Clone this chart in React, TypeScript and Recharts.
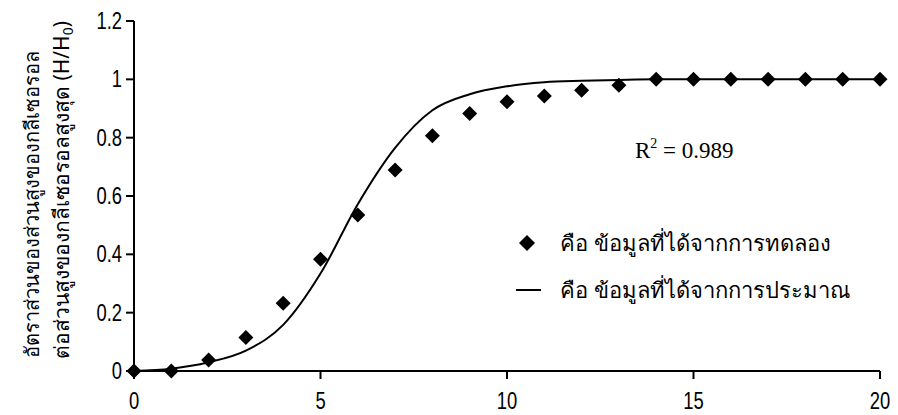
import {
  ComposedChart,
  Line,
  Scatter,
  XAxis,
  YAxis,
} from "recharts";

const xValues = [0, 1, 2, 3, 4, 5, 6, 7, 8, 9, 10, 11, 12, 13, 14, 15, 16, 17, 18, 19, 20];
const measured = [0, 0, 0.038, 0.115, 0.232, 0.383, 0.535, 0.689, 0.807, 0.883, 0.923, 0.943, 0.963, 0.98, 1, 1, 1, 1, 1, 1, 1];
const estimated = [0, 0.008, 0.03, 0.07, 0.158, 0.334, 0.572, 0.765, 0.894, 0.949, 0.976, 0.99, 0.995, 0.998, 1, 1, 1, 1, 1, 1, 1];

const xTicks = [0, 5, 10, 15, 20];
const yTicks = [0, 0.2, 0.4, 0.6, 0.8, 1, 1.2];

const legendLabels = ["คือ ข้อมูลที่ได้จากการทดลอง", "คือ ข้อมูลที่ได้จากการประมาณ"];
const yLabelLines = ["อัตราส่วนของส่วนสูงของกลีเซอรอล", "ต่อส่วนสูงของกลีเซอรอลสูงสุด (H/H"];
const r2Text = "0.989";

const scatterData = xValues.map((x, i) => ({ x, y: measured[i] }));
const lineData = xValues.map((x, i) => ({ x, y: estimated[i] }));

const thaiFont = "'Noto Sans', 'Liberation Sans', sans-serif";
const tickFont = "'Liberation Sans', Arial, sans-serif";

function Diamond(props: any) {
  const { cx, cy } = props;
  const r = 7.5;
  return (
    <polygon
      points={`${cx},${cy - r} ${cx + r},${cy} ${cx},${cy + r} ${cx - r},${cy}`}
      fill="#000"
    />
  );
}

// narrow, tall digits like the scanned original
function XTick(props: any) {
  const { x, y, payload } = props;
  return (
    <g transform={`translate(${x},${y + 28}) scale(0.8,1)`}>
      <text textAnchor="middle" fontSize={23} fontFamily={tickFont} fill="#000">
        {String(payload.value)}
      </text>
    </g>
  );
}

function YTick(props: any) {
  const { x, y, payload } = props;
  return (
    <g transform={`translate(${x - 2},${y + 8}) scale(0.8,1)`}>
      <text textAnchor="end" fontSize={23} fontFamily={tickFont} fill="#000">
        {String(payload.value)}
      </text>
    </g>
  );
}

export default function App() {
  return (
    <div style={{ position: "absolute", left: 0, top: 0, width: 898, height: 415, background: "#fff" }}>
      <ComposedChart
        width={898}
        height={415}
        margin={{ top: 21, right: 18, bottom: 14, left: 74 }}
      >
        <XAxis
          type="number"
          dataKey="x"
          domain={[0, 20]}
          ticks={xTicks}
          axisLine={{ stroke: "#000", strokeWidth: 2 }}
          tickLine={{ stroke: "#000", strokeWidth: 2 }}
          tickSize={8}
          tick={<XTick />}
          height={30}
        />
        <YAxis
          type="number"
          dataKey="y"
          domain={[0, 1.2]}
          ticks={yTicks}
          axisLine={{ stroke: "#000", strokeWidth: 2 }}
          tickLine={{ stroke: "#000", strokeWidth: 2 }}
          tickSize={8}
          tick={<YTick />}
          width={60}
        />
        <Line
          data={lineData}
          dataKey="y"
          type="monotone"
          stroke="#000"
          strokeWidth={2}
          dot={false}
          isAnimationActive={false}
        />
        <Scatter
          data={scatterData}
          dataKey="y"
          fill="#000"
          shape={<Diamond />}
          isAnimationActive={false}
        />
      </ComposedChart>

      <svg
        width={898}
        height={415}
        style={{ position: "absolute", left: 0, top: 0, pointerEvents: "none" }}
      >
        <g transform="translate(32,204) rotate(-90)">
          <text textAnchor="middle" fontFamily={thaiFont} fontSize={20} fill="#000" dy={7}>
            {yLabelLines[0]}
          </text>
        </g>
        <g transform="translate(62,190) rotate(-90)">
          <text textAnchor="middle" fontFamily={thaiFont} fontSize={21} fill="#000" dy={7}>
            {yLabelLines[1]}
            <tspan fontSize={14} dy={4}>0</tspan>
            <tspan dy={-4}>)</tspan>
          </text>
        </g>

        <text x={635} y={158} fontFamily="'Liberation Serif', 'Times New Roman', serif" fontSize={23} fill="#000">
          R<tspan fontSize={14} dy={-10}>2</tspan>
          <tspan dy={10}> = {r2Text}</tspan>
        </text>

        <polygon points="527,235 535,243 527,251 519,243" fill="#000" />
        <text x={560} y={251} fontFamily={thaiFont} fontSize={22} fill="#000">
          {legendLabels[0]}
        </text>
        <line x1={516} x2={541} y1={290} y2={290} stroke="#000" strokeWidth={2} />
        <text x={560} y={298} fontFamily={thaiFont} fontSize={22} fill="#000">
          {legendLabels[1]}
        </text>
      </svg>
    </div>
  );
}
